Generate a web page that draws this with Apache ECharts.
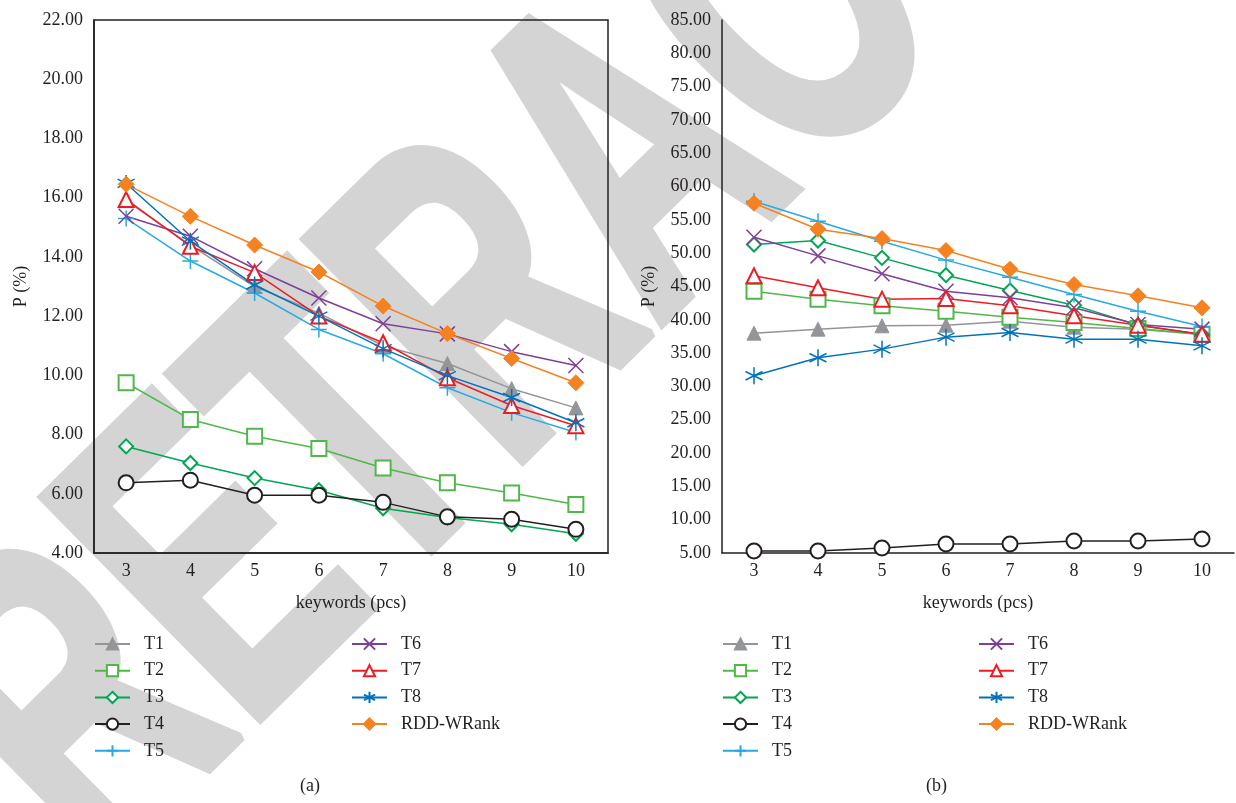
<!DOCTYPE html>
<html><head><meta charset="utf-8">
<script src="https://cdn.jsdelivr.net/npm/echarts@6/dist/echarts.min.js"></script>
<style>html,body{margin:0;padding:0;background:#fff}#c{width:1236px;height:803px}</style>
</head><body><div id="c"></div>
<script>
const categories = ['3','4','5','6','7','8','9','10'];
const seriesNames = ['T1','T2','T3','T4','T5','T6','T7','T8','RDD-WRank'];
// Panel (a)
const a_T1 = [15.9, 14.4, 13.0, 12.1, 11.0, 10.4, 9.55, 8.9];
const a_T2 = [9.75, 8.51, 7.94, 7.53, 6.87, 6.37, 6.03, 5.64];
const a_T3 = [7.6, 7.04, 6.53, 6.12, 5.51, 5.2, 4.97, 4.65];
const a_T4 = [6.37, 6.46, 5.95, 5.95, 5.71, 5.22, 5.14, 4.8];
const a_T5 = [15.3, 13.86, 12.78, 11.55, 10.73, 9.58, 8.74, 8.07];
const a_T6 = [15.37, 14.7, 13.6, 12.61, 11.74, 11.4, 10.8, 10.33];
const a_T7 = [15.94, 14.36, 13.47, 12.0, 11.1, 9.92, 8.98, 8.3];
const a_T8 = [16.48, 14.53, 13.05, 12.0, 10.9, 9.99, 9.25, 8.4];
const a_RDD = [16.45, 15.37, 14.4, 13.49, 12.34, 11.41, 10.57, 9.75];
// Panel (b)
const b_T1 = [38.0, 38.6, 39.1, 39.2, 39.8, 38.9, 38.6, 37.8];
const b_T2 = [44.3, 43.1, 42.1, 41.3, 40.4, 39.6, 38.7, 37.8];
const b_T3 = [51.3, 51.9, 49.3, 46.7, 44.4, 42.2, 39.2, 37.8];
const b_T4 = [5.3, 5.3, 5.75, 6.35, 6.35, 6.8, 6.8, 7.1];
const b_T5 = [57.8, 54.8, 51.8, 48.96, 46.4, 43.8, 41.3, 39.0];
const b_T6 = [52.4, 49.6, 46.9, 44.3, 43.3, 41.8, 39.3, 38.6];
const b_T7 = [46.6, 44.8, 43.1, 43.2, 42.1, 40.6, 39.2, 37.85];
const b_T8 = [31.6, 34.3, 35.6, 37.4, 38.1, 37.1, 37.1, 36.1];
const b_RDD = [57.5, 53.6, 52.2, 50.4, 47.6, 45.3, 43.6, 41.8];
const yTicksA = {min: 4, max: 22, interval: 2};
const yTicksB = {min: 5, max: 85, interval: 5};

const dataA = [a_T1,a_T2,a_T3,a_T4,a_T5,a_T6,a_T7,a_T8,a_RDD];
const dataB = [b_T1,b_T2,b_T3,b_T4,b_T5,b_T6,b_T7,b_T8,b_RDD];

const FONT = 'Liberation Serif';
const TXT = '#231f20';
const styles = [
  {color:'#939598', symbol:'triangle', size:14, fill:'#939598'},
  {color:'#50b848', symbol:'emptyRect', size:15},
  {color:'#00a651', symbol:'emptyDiamond', size:14},
  {color:'#231f20', symbol:'emptyCircle', size:15},
  {color:'#27aae1', symbol:'path://M5,0 L5,10 M0,5 L10,5', size:16, path:true},
  {color:'#7f3f98', symbol:'path://M0,0 L10,10 M10,0 L0,10', size:15, path:true},
  {color:'#ed1c24', symbol:'emptyTriangle', size:15},
  {color:'#0072bc', symbol:'path://M5,0 L5,10 M0.7,2.5 L9.3,7.5 M9.3,2.5 L0.7,7.5', size:17, path:true},
  {color:'#f58220', symbol:'diamond', size:16, fill:'#f58220'}
];

function makeSeries(data, idx) {
  return data.map((d, i) => {
    const s = styles[i];
    const itemStyle = s.path
      ? {color: 'rgba(0,0,0,0)', borderColor: s.color, borderWidth: 1.5}
      : (s.fill ? {color: s.fill, borderColor: s.fill, borderWidth: 1}
                : {color: s.color, borderColor: s.color, borderWidth: 1.5});
    return {
      name: seriesNames[i], type: 'line', xAxisIndex: idx, yAxisIndex: idx,
      data: d, symbol: s.symbol, symbolSize: s.size, showAllSymbol: true,
      lineStyle: {color: s.color, width: 1.5},
      itemStyle: itemStyle,
      emphasis: {disabled: true},
      animation: false
    };
  });
}

const axisLabel = {color: TXT, fontFamily: FONT, fontSize: 18};
function yAxis(idx, t) {
  return {
    type: 'value', gridIndex: idx, min: t.min, max: t.max, interval: t.interval,
    name: 'P (%)', nameLocation: 'middle', nameGap: 64,
    nameTextStyle: {color: TXT, fontFamily: FONT, fontSize: 18},
    axisLine: {show: true, lineStyle: {color: TXT, width: 1.5}},
    axisTick: {show: false}, splitLine: {show: false},
    axisLabel: Object.assign({margin: 11, formatter: v => v.toFixed(2)}, axisLabel)
  };
}
function xAxis(idx) {
  return {
    type: 'category', gridIndex: idx, data: categories, boundaryGap: true,
    name: 'keywords (pcs)', nameLocation: 'middle', nameGap: 41,
    nameTextStyle: {color: TXT, fontFamily: FONT, fontSize: 18},
    axisLine: {show: true, lineStyle: {color: TXT, width: 1.5}},
    axisTick: {show: false}, splitLine: {show: false},
    axisLabel: Object.assign({margin: 9}, axisLabel)
  };
}
function legend(left, top, names) {
  return {
    left: left, top: top, orient: 'vertical', data: names, padding: 0,
    itemWidth: 35, itemHeight: 14, itemGap: 6.7, selectedMode: false,
    textStyle: {color: TXT, fontFamily: FONT, fontSize: 18, lineHeight: 20, padding: [0,0,0,9]}
  };
}

const chart = echarts.init(document.getElementById('c'), null, {renderer: 'canvas'});
chart.setOption({
  backgroundColor: '#fff',
  animation: false,
  grid: [
    {left: 94, right: 628, top: 20, bottom: 250, show: true, borderColor: TXT, borderWidth: 1.5, backgroundColor: 'transparent'},
    {left: 722, right: 2, top: 20, bottom: 250}
  ],
  xAxis: [xAxis(0), xAxis(1)],
  yAxis: [yAxis(0, yTicksA), yAxis(1, yTicksB)],
  legend: [
    legend(94, 634, seriesNames.slice(0,5)),
    legend(351, 634, seriesNames.slice(5)),
    legend(722, 634, seriesNames.slice(0,5)),
    legend(978, 634, seriesNames.slice(5))
  ],
  graphic: [
    {type: 'text', silent: true, z: -10, x: 10, y: 790, rotation: 0.777, scaleX: 0.64,
     style: {text: 'RETRACTED', fill: '#d4d4d4', stroke: '#d4d4d4', lineWidth: 10,
             font: 'bold 450px "Liberation Sans"', textAlign: 'left', textVerticalAlign: 'middle'}},
    {type: 'text', left: 300, top: 777, style: {text: '(a)', fill: TXT, font: '18px "Liberation Serif"'}},
    {type: 'text', left: 926, top: 777, style: {text: '(b)', fill: TXT, font: '18px "Liberation Serif"'}}
  ],
  series: makeSeries(dataA, 0).concat(makeSeries(dataB, 1))
});
</script>
</body></html>
